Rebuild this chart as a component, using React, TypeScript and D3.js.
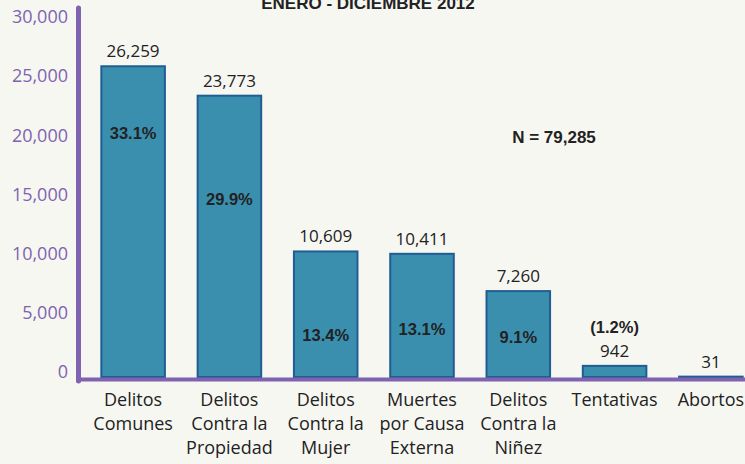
import { useEffect, useRef } from "react";
import * as d3 from "d3";

// categorias (lineas de la etiqueta)
const categories: string[][] = [
  ["Delitos", "Comunes"],
  ["Delitos", "Contra la", "Propiedad"],
  ["Delitos", "Contra la", "Mujer"],
  ["Muertes", "por Causa", "Externa"],
  ["Delitos", "Contra la", "Niñez"],
  ["Tentativas"],
  ["Abortos"],
];
const values = [26259, 23773, 10609, 10411, 7260, 942, 31];
const percents = ["33.1%", "29.9%", "13.4%", "13.1%", "9.1%", "(1.2%)", ""];
const yTicks = [0, 5000, 10000, 15000, 20000, 25000, 30000];
const title = "ENERO - DICIEMBRE 2012";
const totalLabel = "N = 79,285";

// distancia del porcentaje bajo el borde superior de la barra
const pctDepth = [73, 109, 90, 81, 52];

const W = 745;
const H = 464;

const App = () => {
  const svgRef = useRef<SVGSVGElement | null>(null);

  useEffect(() => {
    if (!svgRef.current) return;
    const svg = d3.select(svgRef.current);
    svg.selectAll("*").remove();

    const base = 377;
    const x = d3
      .scaleBand<number>()
      .domain(values.map((_, i) => i))
      .range([84, 760])
      .paddingInner(0.34)
      .paddingOuter(0.18);
    const y = d3.scaleLinear().domain([0, 30000]).range([base, 22]);

    svg.append("rect").attr("width", W).attr("height", H).attr("fill", "#f7f7f2");

    // titulo (cortado arriba)
    svg
      .append("text")
      .attr("x", 368)
      .attr("y", 9)
      .attr("text-anchor", "middle")
      .style("font-family", "Liberation Sans, Arial, sans-serif")
      .style("font-weight", "bold")
      .style("font-size", "17px")
      .attr("fill", "#222")
      .text(title);

    // barras
    svg
      .selectAll("rect.bar")
      .data(values)
      .enter()
      .append("rect")
      .attr("class", "bar")
      .attr("x", (_, i) => x(i)!)
      .attr("y", (d) => y(d))
      .attr("width", x.bandwidth())
      .attr("height", (d) => base - y(d))
      .attr("fill", "#3a8fae")
      .attr("stroke", "#1f5d92")
      .attr("stroke-width", 2);

    // valores
    svg
      .selectAll("text.val")
      .data(values)
      .enter()
      .append("text")
      .attr("class", "val")
      .attr("x", (_, i) => x(i)! + x.bandwidth() / 2)
      .attr("y", (d) => y(d) - 9)
      .attr("text-anchor", "middle")
      .style("font-family", "Open Sans, sans-serif")
      .style("font-size", "17px")
      .attr("fill", "#222")
      .text((d) => d3.format(",")(d));

    // porcentajes
    percents.forEach((p, i) => {
      if (!p) return;
      const cx = x(i)! + x.bandwidth() / 2;
      const py = i < pctDepth.length ? y(values[i]) + pctDepth[i] : y(values[i]) - 33;
      svg
        .append("text")
        .attr("x", cx)
        .attr("y", py)
        .attr("text-anchor", "middle")
        .style("font-family", "Liberation Sans, Arial, sans-serif")
        .style("font-weight", "bold")
        .style("font-size", "16.5px")
        .attr("fill", "#222")
        .text(p);
    });

    // N total
    svg
      .append("text")
      .attr("x", 554)
      .attr("y", 143)
      .attr("text-anchor", "middle")
      .style("font-family", "Liberation Sans, Arial, sans-serif")
      .style("font-weight", "bold")
      .style("font-size", "17px")
      .attr("fill", "#222")
      .text(totalLabel);

    // eje Y
    const yAxis = svg
      .append("g")
      .attr("transform", "translate(78,0)")
      .call(
        d3
          .axisLeft(y)
          .tickValues(yTicks)
          .tickSize(0)
          .tickPadding(10)
          .tickFormat((d) => d3.format(",")(d as number))
      );
    yAxis.select(".domain").remove();
    yAxis
      .selectAll("text")
      .attr("dy", "0.32em")
      .attr("transform", "translate(0,-5)")
      .style("font-family", "Open Sans, sans-serif")
      .style("font-size", "18px")
      .attr("fill", "#7f63b0");

    svg
      .append("line")
      .attr("x1", 78.5)
      .attr("x2", 78.5)
      .attr("y1", 8)
      .attr("y2", 381)
      .attr("stroke", "#7f63b0")
      .attr("stroke-width", 5)
      .attr("stroke-linecap", "round");

    // eje X
    svg
      .append("line")
      .attr("x1", 76)
      .attr("x2", W)
      .attr("y1", 379.5)
      .attr("y2", 379.5)
      .attr("stroke", "#7f63b0")
      .attr("stroke-width", 4);

    // etiquetas de categoria
    categories.forEach((lines, i) => {
      const t = svg
        .append("text")
        .attr("x", x(i)! + x.bandwidth() / 2)
        .attr("y", 406)
        .attr("text-anchor", "middle")
        .style("font-family", "Open Sans, sans-serif")
        .style("font-size", "18px")
        .attr("fill", "#222");
      lines.forEach((l, j) => {
        t.append("tspan")
          .attr("x", x(i)! + x.bandwidth() / 2)
          .attr("dy", j === 0 ? 0 : 24)
          .text(l);
      });
    });
  }, []);

  return (
    <div style={{ position: "absolute", left: 0, top: 0, width: W, height: H }}>
      <svg ref={svgRef} width={W} height={H} style={{ display: "block" }}></svg>
    </div>
  );
};

export default App;
